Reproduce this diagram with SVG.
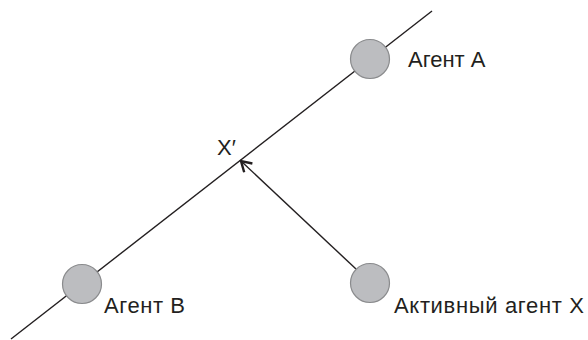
<svg xmlns="http://www.w3.org/2000/svg" width="588" height="340" viewBox="0 0 588 340">
  <style>
    .agent { fill: #bcbdc0; stroke: #8a8b8d; stroke-width: 1.2; }
    .lbl { font-family: "Liberation Sans", Arial, sans-serif; font-size: 22px; fill: #231f20; }
    .ln { stroke: #231f20; stroke-width: 1.4; fill: none; }
  </style>
  <defs>
    <marker id="open" viewBox="0 0 14 14" refX="12" refY="7" markerWidth="14" markerHeight="14" markerUnits="userSpaceOnUse" orient="auto">
      <path d="M2,1 L12,7 L2,13" fill="none" stroke="#231f20" stroke-width="2.4" stroke-linejoin="miter"/>
    </marker>
  </defs>
  <g id="connectors">
    <line class="ln" x1="11" y1="339" x2="432" y2="11"/>
    <line class="ln" x1="356" y1="269" x2="241" y2="161" marker-end="url(#open)"/>
  </g>
  <g id="agentA">
    <circle class="agent" cx="370" cy="59" r="19.5"/>
    <text class="lbl" x="408" y="67">Агент А</text>
  </g>
  <g id="agentB">
    <circle class="agent" cx="82" cy="284" r="19.5"/>
    <text class="lbl" x="104" y="313" textLength="81" lengthAdjust="spacing">Агент В</text>
  </g>
  <g id="agentX">
    <circle class="agent" cx="370" cy="283" r="19.5"/>
    <text class="lbl" x="394" y="313" textLength="190" lengthAdjust="spacing">Активный агент X</text>
  </g>
  <g id="pointX">
    <text class="lbl" x="217" y="155">X′</text>
  </g>
</svg>
